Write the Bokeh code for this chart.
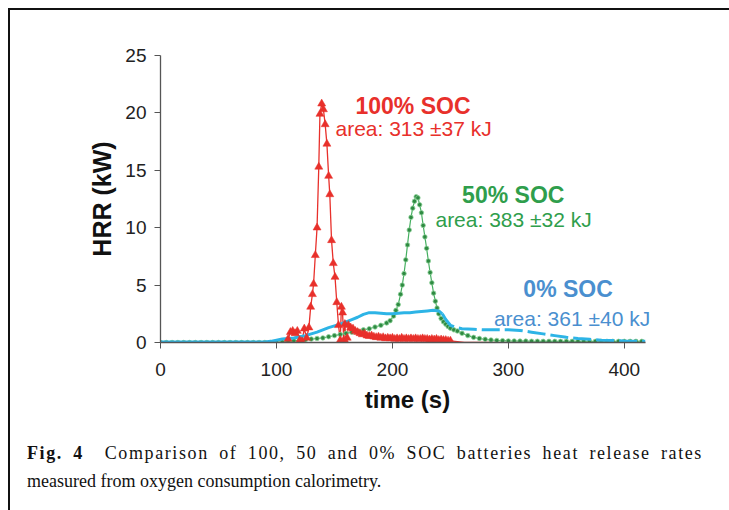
import numpy as np
from bokeh.plotting import figure
from bokeh.layouts import column
from bokeh.models import Label, Range1d, FixedTicker, Div
from bokeh.embed import file_html
from bokeh.resources import INLINE

# ---- data ----
# 100% SOC
t_100 = [0, 20, 40, 60, 80, 100, 108, 110, 112, 114, 116, 118, 120, 122, 124, 126, 128,
         129.5, 131, 132, 133.5, 135, 136.5, 137.5, 139, 140.5, 142, 143.5, 145, 146, 147.5,
         149, 150.5, 152, 153.5, 155, 156, 157, 158, 159, 160, 161,
         162, 164, 166, 168, 170, 172, 174, 176, 178, 180, 182, 184, 186, 188, 190, 192, 194,
         196, 198, 200, 202, 204, 206, 208, 210, 212, 214, 216, 218, 220, 222, 224, 226, 228,
         230, 232, 234, 236, 238, 240, 242, 244, 246, 248, 250, 254, 258, 262, 280, 300, 340,
         380, 418]
hrr_100 = [0, 0, 0, 0, 0, 0, 0, 0.3, 0.9, 1.0, 0.8, 1.0, 0.2, 0.1, 1.2, 0.4, 1.3,
           3.1, 4.2, 5.1, 7.6, 10.0, 15.3, 19.9, 20.8, 20.3, 19.0, 17.3, 14.5, 12.9, 8.9,
           6.9, 5.7, 3.5, 1.5, 0.2, 3.1, 2.6, 0.2, 1.6, 0.0, 0.4,
           1.5, 1.3, 1.2, 1.0, 0.9, 0.8, 0.7, 0.75, 0.6, 0.55, 0.6, 0.5, 0.45, 0.5, 0.4, 0.45,
           0.35, 0.4, 0.35, 0.4, 0.3, 0.35, 0.3, 0.4, 0.3, 0.35, 0.3, 0.35, 0.3, 0.35, 0.3, 0.3,
           0.35, 0.3, 0.3, 0.25, 0.3, 0.25, 0.3, 0.2, 0.25, 0.2, 0.2, 0.15, 0.15, 0.1, 0.05,
           0.0, 0, 0, 0, 0, 0]

# 50% SOC
t_50 = [0, 5, 10, 15, 20, 25, 30, 35, 40, 45, 50, 55, 60, 65, 70, 75, 80, 85, 90, 95, 100,
        105, 110, 115, 120, 125, 130, 135, 140, 145, 150, 155, 160, 165, 170, 175, 180, 185,
        190, 195, 198, 201, 203, 205, 207, 208.5, 210, 211.5, 213, 214.5, 216, 217.5, 219,
        220.5, 222, 223.5, 225, 226.5, 228, 229.5, 231, 232.5, 234, 235.5, 237, 238.5, 240,
        242, 244, 246, 248, 250, 253, 256, 260, 265, 270, 275, 280, 285, 290, 295, 300, 305,
        310, 315, 320, 325, 330, 335, 340, 345, 350, 355, 360, 365, 370, 375, 380, 385, 390,
        395, 400, 405, 410, 415]
hrr_50 = [0, 0, 0, 0, 0, 0, 0, 0, 0, 0, 0, 0, 0, 0, 0, 0, 0, 0, 0, 0, 0.02,
          0.05, 0.1, 0.15, 0.2, 0.25, 0.3, 0.35, 0.4, 0.5, 0.6, 0.7, 0.8, 0.9, 1.0, 1.1, 1.2,
          1.35, 1.5, 1.7, 1.9, 2.3, 2.8, 3.3, 4.2, 5.0, 6.0, 7.2, 8.5, 9.8, 10.9, 11.7, 12.3,
          12.7, 12.6, 12.0, 11.3, 10.2, 9.2, 8.2, 7.1, 6.1, 5.2, 4.3, 3.6, 3.0, 2.5,
          2.1, 1.8, 1.6, 1.4, 1.25, 1.1, 1.0, 0.8, 0.6, 0.45, 0.35, 0.28, 0.22, 0.18, 0.16,
          0.14, 0.13, 0.12, 0.12, 0.11, 0.11, 0.1, 0.1, 0.1, 0.1, 0.1, 0.1, 0.1, 0.1, 0.1,
          0.1, 0.1, 0.1, 0.1, 0.1, 0.1, 0.1, 0.1, 0.1, 0.1]

# 0% SOC
t_0 = [0, 10, 20, 30, 40, 50, 60, 70, 80, 90, 95, 100, 105, 110, 115, 120, 125, 130, 135,
       140, 145, 150, 155, 160, 165, 170, 175, 180, 185, 190, 195, 200, 205, 210, 215, 220,
       225, 230, 235, 240, 243, 246, 250, 255, 260, 270, 280, 290, 300, 310, 320, 330, 340,
       350, 360, 370, 380, 390, 400, 418]
hrr_0 = [0.05, 0.05, 0.05, 0.05, 0.05, 0.05, 0.05, 0.05, 0.05, 0.05, 0.1, 0.2, 0.3, 0.35,
         0.4, 0.5, 0.6, 0.75, 0.9, 1.1, 1.3, 1.45, 1.6, 1.8, 2.0, 2.2, 2.45, 2.6, 2.6, 2.55,
         2.5, 2.5, 2.55, 2.6, 2.6, 2.65, 2.7, 2.75, 2.8, 2.75, 2.5, 2.0, 1.5, 1.3, 1.2, 1.15,
         1.1, 1.1, 1.1, 1.05, 0.9, 0.75, 0.6, 0.45, 0.35, 0.28, 0.2, 0.17, 0.12, 0.1]

x_ticks = [0, 100, 200, 300, 400]
y_ticks = [0, 5, 10, 15, 20, 25]

RED = "#e8302b"
GREEN = "#2f9e4c"
BLUE = "#2db4e6"
BLUE_TXT = "#4a8fcf"

p = figure(output_backend="svg", toolbar_location=None,
           frame_width=494, frame_height=287,
           min_border_left=150, min_border_right=74, min_border_top=45, min_border_bottom=88,
           x_range=Range1d(0, 426), y_range=Range1d(0, 25))
p.grid.visible = False
p.outline_line_color = None
p.background_fill_color = "white"
p.border_fill_color = "white"

for ax, ticks in ((p.xaxis[0], x_ticks), (p.yaxis[0], y_ticks)):
    ax.ticker = FixedTicker(ticks=ticks)
    ax.minor_tick_line_color = None
    ax.major_tick_in = 0
    ax.major_tick_out = 6
    ax.axis_line_color = "#555555"
    ax.major_tick_line_color = "#555555"
    ax.axis_line_width = 1.3
    ax.major_label_text_font = "Liberation Sans"
    ax.major_label_text_font_size = "19px"
    ax.major_label_text_color = "#222222"
    ax.axis_label_text_font = "Liberation Sans"
    ax.axis_label_text_font_style = "bold"
    ax.axis_label_text_color = "#111111"

p.xaxis.axis_label_text_font_size = "24px"
p.yaxis.axis_label_text_font_size = "25px"
p.xaxis.bounds = (0, 418)
p.xaxis.axis_label = "time (s)"
p.yaxis.axis_label = "HRR (kW)"
p.xaxis.major_label_standoff = 14
p.yaxis.major_label_standoff = 8
p.xaxis.axis_label_standoff = 7
p.yaxis.axis_label_standoff = 6

t100 = np.array(t_100, dtype=float)
h100 = np.array(hrr_100, dtype=float)
t50 = np.array(t_50, dtype=float)
h50 = np.array(hrr_50, dtype=float)
t0 = np.array(t_0, dtype=float)
h0 = np.array(hrr_0, dtype=float)

# red line first
p.line(t100, h100, line_color=RED, line_width=1.3)

# green
p.line(t50, h50, line_color="#46b061", line_width=1.2)
p.scatter(t50, h50, marker="circle", size=4.5, fill_color="#2f8a42",
          line_color="#8fd39c", line_width=0.8)

# blue
m_solid = t0 <= 243
m_dash = t0 >= 243
p.line(t0[m_solid], h0[m_solid], line_color=BLUE, line_width=3)
p.line(t0[m_dash], h0[m_dash], line_color=BLUE, line_width=3, line_dash="18 5")

# red markers
m_red = (t100 >= 110) & (t100 <= 252)
p.scatter(t100[m_red], h100[m_red], marker="triangle", size=8,
          fill_color=RED, line_color=RED, line_width=0.5)

# annotations
def lab(x, y, text, color, bold=False, size="21px", font="Liberation Sans"):
    p.add_layout(Label(x=x, y=y, text=text, text_color=color, text_font=font,
                       text_font_size=size, text_font_style="bold" if bold else "normal",
                       text_baseline="middle", text_align="left"))

lab(168.1, 20.64, "100% SOC", RED, bold=True, size="23px")
lab(150.9, 18.64, "area: 313 \u00b137 kJ", RED, size="21px")
lab(260.1, 12.89, "50% SOC", GREEN, bold=True, size="23px")
lab(237.1, 10.71, "area: 383 \u00b132 kJ", GREEN, size="21px")
lab(312.9, 4.70, "0% SOC", BLUE_TXT, bold=True, size="23px")
lab(287.5, 2.13, "area: 361 \u00b140 kJ", BLUE_TXT, size="21px")

caption = Div(
    text=("<div style='font-family:\"Liberation Serif\";font-size:18px;line-height:28px;"
          "color:#111;padding:4px 0 0 12px;width:688px;'>"
          "<div style='text-align:justify;text-align-last:justify;letter-spacing:1.6px;'>"
          "<b>Fig. 4</b>&nbsp; Comparison of 100, 50 and 0% SOC batteries heat "
          "release rates</div>"
          "<div>measured from oxygen consumption calorimetry.</div></div>"),
    width=718, height=70)

layout = column(p, caption, spacing=0,
                styles={"margin-left": "8px", "margin-top": "8px",
                        "border-top": "2px solid #111", "border-left": "2px solid #111",
                        "background-color": "white"})

open("out.html", "w").write(file_html(layout, INLINE))
